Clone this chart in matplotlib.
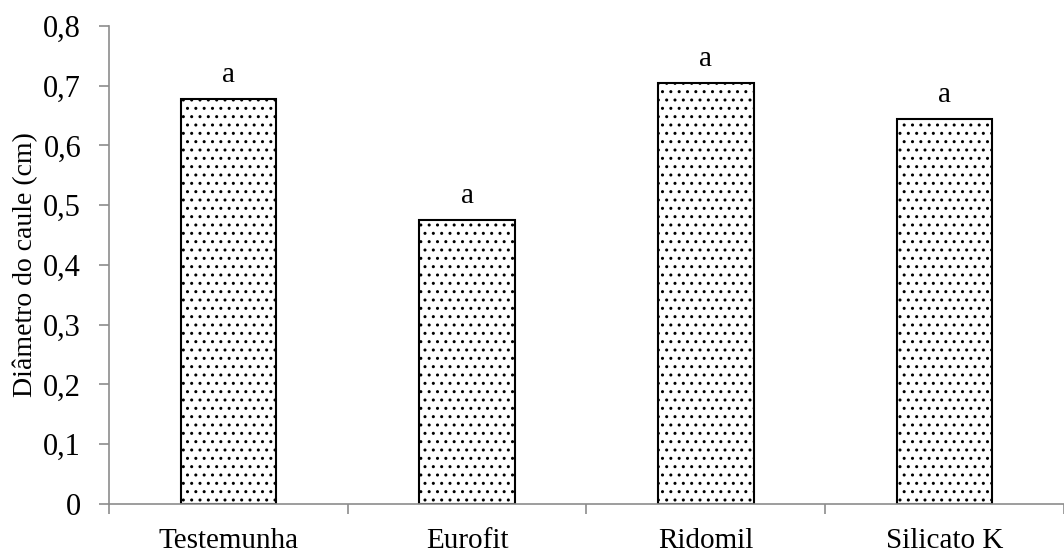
import matplotlib
matplotlib.use("Agg")
import matplotlib.pyplot as plt
import numpy as np

plt.rcParams['font.family'] = ['Liberation Serif', 'DejaVu Serif']
plt.rcParams['hatch.color'] = '#6a6a6a'
plt.rcParams['hatch.linewidth'] = 1.0

categories = ['Testemunha', 'Eurofit', 'Ridomil', 'Silicato K']
values = [0.677, 0.475, 0.704, 0.644]
letters = ['a', 'a', 'a', 'a']

fig = plt.figure(figsize=(10.64, 5.52), dpi=100)
ax = fig.add_axes([0.1024, 0.087, 0.8976, 0.866])

x = np.arange(len(categories))
bars = ax.bar(x, values, width=0.40, color='white', edgecolor='black',
              linewidth=1.5, hatch='..')

for b, lab in zip(bars, letters):
    ax.annotate(lab, (b.get_x() + b.get_width() / 2, b.get_height()),
                xytext=(0, 8), textcoords='offset points',
                ha='center', va='bottom', fontsize=21)

ax.set_ylim(0, 0.8)
ax.set_xlim(-0.5, 3.462)
ax.set_yticks(np.arange(0, 0.81, 0.1))
ax.set_yticklabels(['0'] + [f'{v:.1f}'.replace('.', ',') for v in np.arange(0.1, 0.81, 0.1)])
ax.set_xticks(x)
ax.set_xticklabels(categories)
ax.set_xticks(np.arange(-0.5, 4, 1.0), minor=True)

gray = '#8c8c8c'
for s in ['top', 'right']:
    ax.spines[s].set_visible(False)
for s in ['left', 'bottom']:
    ax.spines[s].set_color(gray)
    ax.spines[s].set_linewidth(1.2)

ax.tick_params(axis='y', direction='out', length=7, width=1.2, color=gray,
               labelsize=22, pad=13)
ax.tick_params(axis='x', which='major', length=0, labelsize=21, pad=17)
ax.tick_params(axis='x', which='minor', direction='out', length=7, width=1.2,
               color=gray)

ax.set_ylabel('Diâmetro do caule (cm)', fontsize=20, labelpad=4)

fig.savefig('out.png', dpi=100)
